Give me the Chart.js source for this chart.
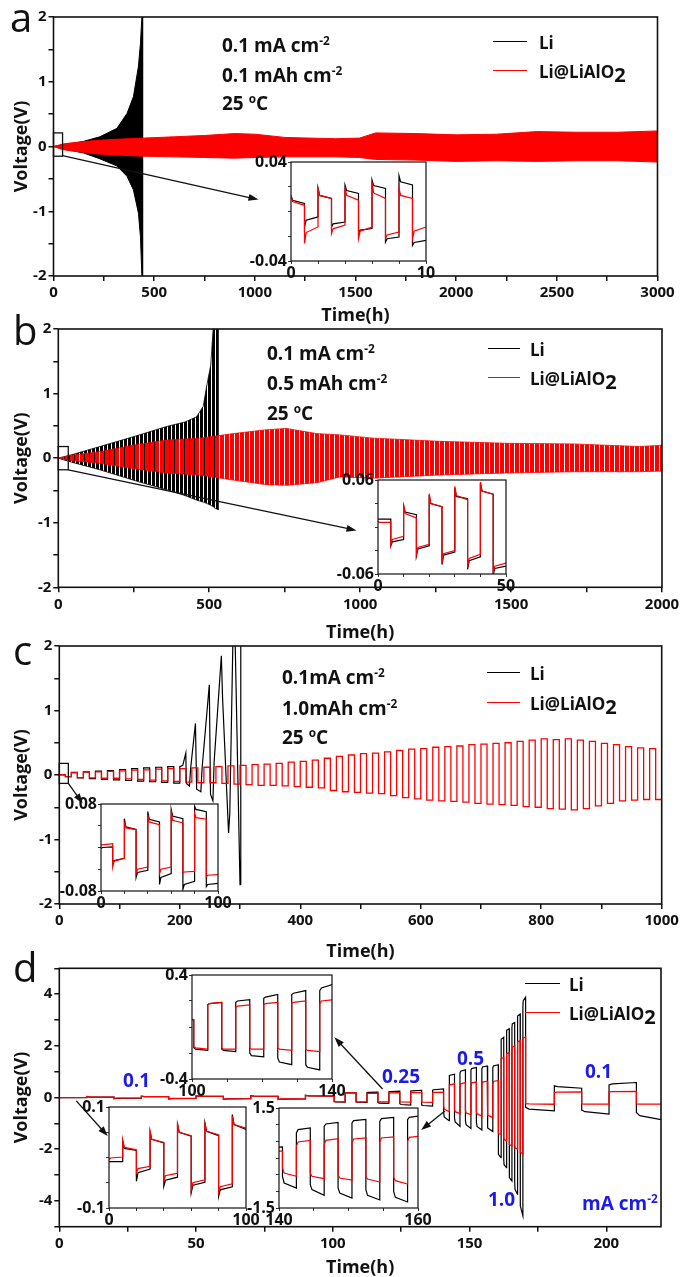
<!DOCTYPE html>
<html>
<head>
<meta charset="utf-8">
<script src="https://cdn.jsdelivr.net/npm/chart.js@4.4.1/dist/chart.umd.min.js"></script>
<style>
body { margin: 0; background: #fff; }
#fig { position: relative; width: 683px; height: 1277px; overflow: hidden; font-family: "Open Sans", sans-serif; }
#fig canvas { position: absolute; }
.t { position: absolute; font-weight: 700; white-space: nowrap; transform: translateY(-50%); line-height: 1; color: #111; }
.t sup { font-size: 0.62em; vertical-align: 0.55em; line-height: 0; }
.sub2 { font-size: 1.18em; position: relative; top: 0.22em; }
.letter { position: absolute; font-size: 40px; font-weight: 400; line-height: 1; color: #111; }
.lg { position: absolute; height: 0; border-top: 1.6px solid #000; }
</style>
</head>
<body>
<div id="fig"></div>
<script>
// ---------- panel a : 0.1 mA cm-2, 0.1 mAh cm-2 (envelopes of the dense cycling) ----------
const aLiT    = [0, 50, 100, 150, 230, 315, 365, 397, 422, 432, 439, 447];
const aLiHigh = [0, 0.03, 0.05, 0.08, 0.15, 0.28, 0.51, 0.77, 1.24, 1.6, 2.0, 2.0];
const aLiLow  = [0, -0.04, -0.07, -0.1, -0.19, -0.3, -0.46, -0.67, -1.03, -1.4, -2.0, -2.0];
const aCoatT    = [0, 50, 100, 200, 300, 450, 600, 750, 900, 1000, 1150, 1400, 1520, 1600, 1800, 2000, 2200, 2400, 2600, 2800, 3000];
const aCoatHigh = [0, 0.04, 0.06, 0.09, 0.11, 0.13, 0.15, 0.17, 0.2, 0.19, 0.14, 0.12, 0.13, 0.21, 0.2, 0.18, 0.19, 0.23, 0.22, 0.22, 0.24];
const aCoatLow  = [0, -0.05, -0.07, -0.11, -0.13, -0.15, -0.16, -0.17, -0.18, -0.17, -0.16, -0.16, -0.17, -0.2, -0.21, -0.23, -0.22, -0.23, -0.22, -0.22, -0.24];
// inset a: 0-10 h, one value triple (start, knee, end) per half cycle
const insAStart = [0, 1, 2, 3, 4, 5, 6, 7, 8, 9];
const insALi = [[0.013, 0.009, 0.0065], [-0.0125, -0.007, -0.0044], [0.0187, 0.013, 0.0106], [-0.0125, -0.01, -0.0085], [0.0214, 0.017, 0.0146],
                [-0.0179, -0.015, -0.0138], [0.0255, 0.021, 0.0187], [-0.0247, -0.022, -0.0206], [0.029, 0.024, 0.0214], [-0.0274, -0.025, -0.0233]];
const insACoat = [[0.013, 0.008, 0.005], [-0.0258, -0.017, -0.0125], [0.0187, 0.013, 0.0106], [-0.0179, -0.014, -0.011], [0.02, 0.013, 0.0092],
                  [-0.022, -0.016, -0.0125], [0.024, 0.015, 0.0106], [-0.022, -0.019, -0.0166], [0.0187, 0.013, 0.0106], [-0.022, -0.016, -0.0125]];

// ---------- panel b : 0.1 mA cm-2, 0.5 mAh cm-2 ----------
const bLiT    = [0, 50, 138, 248, 359, 420, 458, 480, 491, 505, 513, 520, 532];
const bLiHigh = [0, 0.06, 0.18, 0.33, 0.49, 0.56, 0.64, 0.8, 1.1, 1.44, 2.0, 2.0, 2.0];
const bLiLow  = [0, -0.07, -0.18, -0.34, -0.49, -0.58, -0.65, -0.68, -0.7, -0.73, -0.75, -0.78, -0.8];
const bCoatT    = [0, 50, 138, 248, 359, 469, 580, 690, 756, 856, 933, 1043, 1264, 1485, 1705, 1926, 2000];
const bCoatHigh = [0, 0.05, 0.1, 0.2, 0.28, 0.31, 0.38, 0.44, 0.46, 0.38, 0.36, 0.31, 0.26, 0.23, 0.22, 0.18, 0.2];
const bCoatLow  = [0, -0.04, -0.08, -0.16, -0.23, -0.26, -0.34, -0.41, -0.42, -0.38, -0.29, -0.31, -0.26, -0.23, -0.21, -0.21, -0.2];
const insBStart = [0, 5, 10, 15, 20, 25, 30, 35, 40, 45];
const insBLi = [[0.01, 0.01, 0.01], [-0.024, -0.019, -0.016], [0.027, 0.019, 0.0157], [-0.037, -0.028, -0.024], [0.041, 0.03, 0.026],
                [-0.048, -0.036, -0.032], [0.05, 0.039, 0.036], [-0.054, -0.043, -0.038], [0.056, 0.046, 0.042], [-0.061, -0.053, -0.05]];
const insBCoat = [[0.007, 0.006, 0.006], [-0.0235, -0.016, -0.012], [0.029, 0.017, 0.0115], [-0.035, -0.026, -0.022], [0.0425, 0.03, 0.026],
                  [-0.046, -0.034, -0.03], [0.052, 0.04, 0.035], [-0.052, -0.04, -0.035], [0.0575, 0.046, 0.042], [-0.059, -0.05, -0.046]];

// ---------- panel c : 0.1 mA cm-2, 1.0 mAh cm-2 (20 h cycles) ----------
const cPeriod = 20;
const cCoatTop = [0.005, 0.035, 0.045, 0.05, 0.055, 0.065, 0.075, 0.08, 0.09, 0.1,
                  0.1, 0.11, 0.12, 0.13, 0.14, 0.15, 0.16, 0.17, 0.18, 0.2,
                  0.21, 0.23, 0.26, 0.29, 0.31, 0.33, 0.34, 0.36, 0.38, 0.4,
                  0.41, 0.43, 0.44, 0.45, 0.47, 0.48, 0.49, 0.5, 0.52, 0.54,
                  0.56, 0.55, 0.56, 0.54, 0.52, 0.49, 0.47, 0.44, 0.42, 0.41];
const cCoatBot = [-0.025, -0.04, -0.045, -0.05, -0.05, -0.06, -0.07, -0.08, -0.09, -0.1,
                  -0.11, -0.12, -0.12, -0.13, -0.14, -0.15, -0.16, -0.16, -0.17, -0.18,
                  -0.19, -0.2, -0.24, -0.26, -0.27, -0.28, -0.29, -0.32, -0.35, -0.37,
                  -0.39, -0.4, -0.41, -0.42, -0.44, -0.45, -0.46, -0.47, -0.49, -0.5,
                  -0.52, -0.53, -0.54, -0.52, -0.48, -0.44, -0.4, -0.39, -0.38, -0.38];
const cLiTop = [0.0, 0.04, 0.05, 0.06, 0.07, 0.085, 0.1, 0.11, 0.12, 0.13];
const cLiBot = [-0.025, -0.045, -0.055, -0.068, -0.075, -0.085, -0.095, -0.105, -0.115, -0.125];
const cLiTail = [[200, 0.13], [205, 0.15], [210, 0.34], [211, -0.13], [216, -0.17], [218, 0.1], [226, 0.8], [228, -0.22],
                 [235, -0.26], [237, 0.1], [249, 1.4], [251, -0.3], [255, -0.4], [257, 0.2], [269, 1.85], [271, 1.2],
                 [281, -0.9], [283, -0.6], [289, 2.5], [291, 2.5], [300, -1.7], [301, -1.7], [301.5, 2.5]];
const insCStart = [0, 10, 20, 30, 40, 50, 60, 70, 80, 90];
const insCLi = [[-0.002, 0, 0.001], [-0.03, -0.024, -0.02], [0.053, 0.038, 0.033], [-0.055, -0.046, -0.042], [0.066, 0.052, 0.047],
                [-0.068, -0.055, -0.048], [0.07, 0.058, 0.053], [-0.077, -0.068, -0.062], [0.076, 0.07, 0.066], [-0.072, -0.068, -0.066]];
const insCCoat = [[0.004, 0.005, 0.007], [-0.036, -0.025, -0.02], [0.045, 0.036, 0.033], [-0.048, -0.04, -0.036], [0.06, 0.047, 0.042],
                  [-0.048, -0.04, -0.036], [0.068, 0.05, 0.045], [-0.047, -0.045, -0.044], [0.063, 0.055, 0.052], [-0.054, -0.051, -0.05]];

// ---------- panel d : rate test, half-cycle start times and (start, knee, end) voltages ----------
const dStart = [0, 10, 20, 30, 40, 50, 60, 70, 80, 90,
                100.5, 104.5, 108.5, 112.5, 116.5, 120.5, 124.5, 128.5, 132.5, 136.5,
                140.5, 142.5, 144.5, 146.5, 148.5, 150.5, 152.5, 154.5, 156.5, 158.5,
                160.5, 161.5, 162.5, 163.5, 164.5, 165.5, 166.5, 167.5, 168.5, 169.5,
                170.5, 181, 191, 201, 211];
const dEnd = 221;
const dCoat = [
  [-0.004, -0.001, 0.001], [0.035, 0.02, 0.0155], [-0.031, -0.022, -0.0175], [0.052, 0.036, 0.03], [-0.047, -0.036, -0.031],
  [0.068, 0.05, 0.043], [-0.064, -0.05, -0.044], [0.07, 0.052, 0.045], [-0.07, -0.058, -0.052], [0.082, 0.065, 0.058],
  [-0.15, -0.16, -0.17], [0.17, 0.18, 0.19], [-0.16, -0.17, -0.17], [0.15, 0.16, 0.17], [-0.16, -0.17, -0.17],
  [0.17, 0.18, 0.19], [-0.16, -0.17, -0.18], [0.18, 0.19, 0.2], [-0.17, -0.18, -0.19], [0.18, 0.2, 0.21],
  [-0.3, -0.45, -0.55], [0.35, 0.48, 0.53], [-0.45, -0.55, -0.62], [0.4, 0.53, 0.58], [-0.5, -0.6, -0.66],
  [0.45, 0.57, 0.6], [-0.55, -0.63, -0.72], [0.48, 0.6, 0.63], [-0.58, -0.68, -0.78], [0.5, 0.62, 0.66],
  [-1.3, -1.4, -1.42], [1.4, 1.5, 1.55], [-1.5, -1.62, -1.68], [1.6, 1.7, 1.74], [-1.7, -1.82, -1.87],
  [1.85, 1.95, 2.0], [-1.85, -1.95, -2.0], [2.05, 2.15, 2.2], [-2.0, -2.12, -2.17], [2.2, 2.3, 2.35],
  [-0.24, -0.25, -0.26], [0.2, 0.21, 0.22], [-0.25, -0.26, -0.26], [0.22, 0.23, 0.24], [-0.25, -0.26, -0.26]
];
const dLi = [
  [-0.008, -0.008, -0.008], [0.032, 0.018, 0.014], [-0.047, -0.03, -0.023], [0.05, 0.036, 0.029], [-0.057, -0.045, -0.039],
  [0.065, 0.05, 0.042], [-0.07, -0.055, -0.049], [0.068, 0.052, 0.043], [-0.077, -0.064, -0.058], [0.085, 0.065, 0.055],
  [-0.16, -0.17, -0.18], [0.17, 0.18, 0.19], [-0.17, -0.18, -0.19], [0.19, 0.2, 0.21], [-0.2, -0.22, -0.23],
  [0.22, 0.23, 0.25], [-0.24, -0.27, -0.29], [0.25, 0.26, 0.28], [-0.29, -0.31, -0.33], [0.28, 0.3, 0.33],
  [-0.55, -0.75, -0.9], [0.75, 0.85, 0.9], [-0.8, -0.95, -1.12], [0.95, 1.02, 1.07], [-0.9, -1.05, -1.2],
  [1.05, 1.12, 1.16], [-0.95, -1.12, -1.26], [1.1, 1.18, 1.22], [-1.0, -1.18, -1.32], [1.15, 1.22, 1.27],
  [-2.0, -2.2, -2.33], [2.1, 2.25, 2.33], [-2.4, -2.6, -2.71], [2.45, 2.6, 2.66], [-2.8, -3.1, -3.23],
  [2.7, 2.85, 2.9], [-3.2, -3.55, -3.74], [3.0, 3.15, 3.23], [-3.7, -4.2, -4.58], [3.5, 3.75, 3.88],
  [-0.38, -0.45, -0.52], [0.45, 0.42, 0.36], [-0.49, -0.55, -0.64], [0.49, 0.53, 0.58], [-0.58, -0.7, -0.88]
];

const F = '"Open Sans", sans-serif';
const RED = '#ff0000', BLK = '#000000';
const fig = document.getElementById('fig');

// build points from half cycles: jump to start value, quick relaxation to knee, then drift to end
function halves(starts, end, vals) {
  const pts = [];
  vals.forEach((v, i) => {
    const t0 = starts[i], t1 = i + 1 < starts.length ? starts[i + 1] : end;
    pts.push({x: t0, y: v[0]}, {x: t0 + (t1 - t0) * 0.12, y: v[1]}, {x: t1, y: v[2]});
  });
  return pts;
}
function squares(top, bot) {
  const pts = [];
  top.forEach((v, k) => {
    const t = k * cPeriod;
    pts.push({x: t, y: v}, {x: t + cPeriod / 2, y: v}, {x: t + cPeriod / 2, y: bot[k]}, {x: t + cPeriod, y: bot[k]});
  });
  return pts;
}
const band = (ts, vs) => ts.map((t, i) => ({x: t, y: vs[i]}));
const line = (pts, color, w) => ({data: pts, borderColor: color, borderWidth: w || 1.3, pointRadius: 0, fill: false});

// vertical stripe fill, so the dense cycling of panel b reads as separate spikes
function stripes(color, on, off) {
  const c = document.createElement('canvas');
  c.width = on + off; c.height = 4;
  const x = c.getContext('2d');
  x.fillStyle = color; x.fillRect(0, 0, on, 4);
  return x.createPattern(c, 'repeat');
}

const framePlugin = {
  id: 'frame',
  beforeDraw(chart, args, opts) {
    if (!opts.white) return;
    const {ctx, chartArea: a} = chart;
    ctx.save(); ctx.fillStyle = '#fff';
    ctx.fillRect(a.left, a.top, a.right - a.left, a.bottom - a.top); ctx.restore();
  },
  afterDraw(chart, args, opts) {
    const {ctx, chartArea: a} = chart;
    ctx.save(); ctx.strokeStyle = '#111'; ctx.lineWidth = opts.width || 1.6;
    ctx.strokeRect(a.left, a.top, a.right - a.left, a.bottom - a.top); ctx.restore();
  }
};
const marksPlugin = {
  id: 'marks',
  afterDatasetsDraw(chart, args, opts) {
    const {ctx, scales: {x, y}} = chart;
    ctx.save(); ctx.strokeStyle = '#111'; ctx.fillStyle = '#111'; ctx.lineWidth = 1.3;
    if (opts.box) {
      const b = opts.box;
      const x0 = x.getPixelForValue(b[0]), y0 = y.getPixelForValue(b[1]);
      const x1 = x.getPixelForValue(b[2]), y1 = y.getPixelForValue(b[3]);
      ctx.strokeRect(x0, y1, x1 - x0, y0 - y1);
    }
    (opts.arrows || []).forEach(r => {
      const ax = x.getPixelForValue(r[0]), ay = y.getPixelForValue(r[1]);
      const bx = x.getPixelForValue(r[2]), by = y.getPixelForValue(r[3]);
      const g = Math.atan2(by - ay, bx - ax), c = Math.cos(g), s = Math.sin(g);
      ctx.beginPath(); ctx.moveTo(ax, ay); ctx.lineTo(bx - 6 * c, by - 6 * s); ctx.stroke();
      ctx.beginPath(); ctx.moveTo(bx, by);
      ctx.lineTo(bx - 10 * c + 3.5 * s, by - 10 * s - 3.5 * c);
      ctx.lineTo(bx - 10 * c - 3.5 * s, by - 10 * s + 3.5 * c);
      ctx.closePath(); ctx.fill();
    });
    ctx.restore();
  }
};

function addCanvas(left, top, w, h) {
  const cv = document.createElement('canvas');
  cv.width = w; cv.height = h;
  cv.style.left = left + 'px'; cv.style.top = top + 'px';
  fig.appendChild(cv);
  return cv;
}

function makeMain(c) {
  const cv = addCanvas(0, c.top, 683, c.h);
  const tickFont = {family: F, size: 15, weight: 'bold'};
  const titleFont = {family: F, size: 18, weight: 'bold', lineHeight: 1};
  return new Chart(cv, {
    type: 'line',
    data: {datasets: c.datasets},
    options: {
      responsive: false, animation: false, devicePixelRatio: 1,
      layout: {padding: {left: 0, top: c.area[1] - c.top, right: 683 - c.area[2], bottom: 0}},
      plugins: {legend: {display: false}, tooltip: {enabled: false}, marks: c.marks || {}, frame: {}},
      scales: {
        x: {
          type: 'linear', min: 0, max: c.xmax,
          afterFit: s => { s.height = c.h - (c.area[3] - c.top); },
          border: {display: false},
          grid: {drawOnChartArea: false, color: '#111', lineWidth: 1.5, tickLength: 5},
          ticks: {stepSize: c.xstep, autoSkip: false, maxRotation: 0, includeBounds: false, padding: 3, color: '#111', font: tickFont,
                  callback: v => (v % c.xlab === 0 ? String(v) : '')},
          title: {display: true, text: 'Time(h)', color: '#111', font: titleFont, padding: {top: 0, bottom: c.tpad}}
        },
        y: {
          type: 'linear', min: c.ymin, max: c.ymax,
          afterFit: s => { s.width = c.area[0]; },
          border: {display: false},
          grid: {drawOnChartArea: false, color: '#111', lineWidth: 1.5, tickLength: 5},
          ticks: {stepSize: c.ystep, autoSkip: false, padding: 2, color: '#111', font: tickFont,
                  callback: v => (Math.abs(v % c.ylab) < 1e-9 ? String(v) : '')},
          title: {display: true, text: 'Voltage(V)', color: '#111', font: titleFont, padding: {top: 13, bottom: 0}}
        }
      }
    },
    plugins: [framePlugin, marksPlugin]
  });
}

function makeInset(c) {
  const [l, t, r, b] = c.box;
  const padL = 46, padT = 12, padR = 16, padB = 22;
  const cv = addCanvas(l - padL, t - padT, r - l + padL + padR, b - t + padT + padB);
  const f = {family: F, size: 16, weight: 'bold'};
  const ends = (min, max) => v => (Math.abs(v - min) < 1e-9 || Math.abs(v - max) < 1e-9 ? String(+v.toFixed(4)) : '');
  return new Chart(cv, {
    type: 'line',
    data: {datasets: c.datasets},
    options: {
      responsive: false, animation: false, devicePixelRatio: 1,
      layout: {padding: {left: 0, top: padT, right: padR, bottom: 0}},
      plugins: {legend: {display: false}, tooltip: {enabled: false}, frame: {white: true, width: 1.2}},
      scales: {
        x: {
          type: 'linear', min: c.x[0], max: c.x[1],
          afterFit: s => { s.height = padB; },
          border: {display: false},
          grid: {drawOnChartArea: false, color: '#333', lineWidth: 1, tickLength: 3},
          ticks: {stepSize: c.x[2], autoSkip: false, maxRotation: 0, padding: 0, color: '#111', font: f, callback: ends(c.x[0], c.x[1])}
        },
        y: {
          type: 'linear', min: -c.y[0], max: c.y[0],
          afterFit: s => { s.width = padL; },
          border: {display: false},
          grid: {drawOnChartArea: false, color: '#333', lineWidth: 1, tickLength: 3},
          ticks: {stepSize: c.y[1], autoSkip: false, padding: 1, color: '#111', font: f, callback: ends(-c.y[0], c.y[0])}
        }
      }
    },
    plugins: [framePlugin]
  });
}

// ---- a ----
makeMain({
  top: 0, h: 330, area: [53.5, 17, 657.5, 276], tpad: 5,
  xmax: 3000, xstep: 250, xlab: 500, ymin: -2, ymax: 2, ystep: 0.5, ylab: 1,
  datasets: [
    {data: band(aCoatT, aCoatHigh), borderColor: RED, backgroundColor: RED, borderWidth: 1, pointRadius: 0, fill: '+1'},
    {data: band(aCoatT, aCoatLow), borderColor: RED, borderWidth: 1, pointRadius: 0, fill: false},
    {data: band(aLiT, aLiHigh), borderColor: BLK, backgroundColor: BLK, borderWidth: 1, pointRadius: 0, fill: '+1'},
    {data: band(aLiT, aLiLow), borderColor: BLK, borderWidth: 1, pointRadius: 0, fill: false}
  ],
  marks: {box: [0, -0.15, 45, 0.21], arrows: [[45, -0.14, 1018, -0.82]]}
});
makeInset({box: [291, 162, 426, 261], x: [0, 10, 2], y: [0.04, 0.02],
  datasets: [line(halves(insAStart, 10, insACoat), RED, 1.2), line(halves(insAStart, 10, insALi), BLK, 1.2)]});

// ---- b ----
makeMain({
  top: 300, h: 345, area: [58.3, 329, 662, 587.3], tpad: 3,
  xmax: 2000, xstep: 250, xlab: 500, ymin: -2, ymax: 2, ystep: 0.5, ylab: 1,
  datasets: [
    {data: band(bCoatT, bCoatHigh), borderColor: RED, backgroundColor: stripes(RED, 4, 1), borderWidth: 0.8, pointRadius: 0, fill: '+1'},
    {data: band(bCoatT, bCoatLow), borderColor: RED, borderWidth: 0.8, pointRadius: 0, fill: false},
    {data: band(bLiT, bLiHigh), borderColor: BLK, backgroundColor: stripes(BLK, 3, 1), borderWidth: 0.8, pointRadius: 0, fill: '+1'},
    {data: band(bLiT, bLiLow), borderColor: BLK, borderWidth: 0.8, pointRadius: 0, fill: false}
  ],
  marks: {box: [0, -0.18, 33, 0.18], arrows: [[33, -0.18, 988, -1.12]]}
});
makeInset({box: [378, 480, 506, 574], x: [0, 50, 10], y: [0.06, 0.03],
  datasets: [line(halves(insBStart, 50, insBCoat), RED, 1.2), line(halves(insBStart, 50, insBLi), BLK, 1.2)]});

// ---- c ----
makeMain({
  top: 620, h: 345, area: [59.3, 646, 661.7, 904], tpad: 4,
  xmax: 1000, xstep: 100, xlab: 200, ymin: -2, ymax: 2, ystep: 0.5, ylab: 1,
  datasets: [
    line(squares(cCoatTop, cCoatBot), RED, 1.3),
    line(squares(cLiTop, cLiBot).concat(cLiTail.map(p => ({x: p[0], y: p[1]}))), BLK, 1.2)
  ],
  marks: {box: [0, -0.13, 15, 0.18], arrows: [[15, -0.13, 38.8, -0.44]]}
});
makeInset({box: [101, 804, 218, 891], x: [0, 100, 20], y: [0.08, 0.04],
  datasets: [line(halves(insCStart, 100, insCCoat), RED, 1.2), line(halves(insCStart, 100, insCLi), BLK, 1.2)]});

// ---- d ----
const dCoatPts = halves(dStart, dEnd, dCoat), dLiPts = halves(dStart, dEnd, dLi);
makeMain({
  top: 940, h: 337, area: [59.3, 968.3, 661, 1226.7], tpad: 0,
  xmax: 220, xstep: 25, xlab: 50, ymin: -5, ymax: 5, ystep: 1, ylab: 2,
  datasets: [line(dCoatPts, RED, 1.3), line(dLiPts, BLK, 1.2)],
  marks: {arrows: [[6.2, -0.13, 17.7, -1.49], [118.2, 0.33, 100.6, 2.33], [141, -0.52, 132.3, -1.26]]}
});
makeInset({box: [192, 975, 332, 1079], x: [100, 140, 10], y: [0.4, 0.2],
  datasets: [line(dCoatPts, RED, 1.2), line(dLiPts, BLK, 1.2)]});
makeInset({box: [109, 1107, 246, 1208], x: [0, 100, 20], y: [0.1, 0.05],
  datasets: [line(dCoatPts, RED, 1.2), line(dLiPts, BLK, 1.2)]});
makeInset({box: [279, 1108, 418, 1208], x: [140, 160, 5], y: [1.5, 0.5],
  datasets: [line(dCoatPts, RED, 1.2), line(dLiPts, BLK, 1.2)]});

// ---------- text, legends, panel letters ----------
function txt(html, x, cy, size, color) {
  const d = document.createElement('div');
  d.className = 't'; d.innerHTML = html;
  d.style.left = x + 'px'; d.style.top = cy + 'px'; d.style.fontSize = size + 'px';
  if (color) d.style.color = color;
  fig.appendChild(d);
}
function letter(ch, x, top) {
  const d = document.createElement('div');
  d.className = 'letter'; d.textContent = ch;
  d.style.left = x + 'px'; d.style.top = top + 'px';
  fig.appendChild(d);
}
function legend(x0, x1, y1, y2, tx) {
  [[y1, BLK], [y2, RED]].forEach(([y, col]) => {
    const d = document.createElement('div');
    d.className = 'lg'; d.style.left = x0 + 'px'; d.style.top = y + 'px';
    d.style.width = (x1 - x0) + 'px'; d.style.borderTopColor = col;
    fig.appendChild(d);
  });
  txt('Li', tx, y1 + 1, 17);
  txt('Li@LiAlO<span class="sub2">2</span>', tx, y2 + 1, 17);
}

letter('a', 10, -3.5); letter('b', 13, 309.5); letter('c', 13, 629.5); letter('d', 13, 946.5);

txt('0.1 mA cm<sup>-2</sup>', 222, 45, 19); txt('0.1 mAh cm<sup>-2</sup>', 222, 75, 19); txt('25 <sup>o</sup>C', 222, 103, 19);
txt('0.1 mA cm<sup>-2</sup>', 267, 353, 19); txt('0.5 mAh cm<sup>-2</sup>', 267, 383, 19); txt('25 <sup>o</sup>C', 267, 413, 19);
txt('0.1mA cm<sup>-2</sup>', 282, 677, 19); txt('1.0mAh cm<sup>-2</sup>', 282, 708, 19); txt('25 <sup>o</sup>C', 282, 737, 19);

legend(493, 527, 41, 70, 539);
legend(488, 520, 348, 377, 530);
legend(487, 520, 672, 702, 530);
legend(525, 560, 983, 1012, 569);

const BLUE = '#1a1aee';
txt('0.1', 123, 1080, 19, BLUE);
txt('0.25', 382, 1076, 19, BLUE);
txt('0.5', 457, 1058, 19, BLUE);
txt('1.0', 488, 1199, 19, BLUE);
txt('0.1', 585, 1071, 19, BLUE);
txt('mA cm<sup>-2</sup>', 582, 1203, 19, BLUE);
</script>
</body>
</html>
